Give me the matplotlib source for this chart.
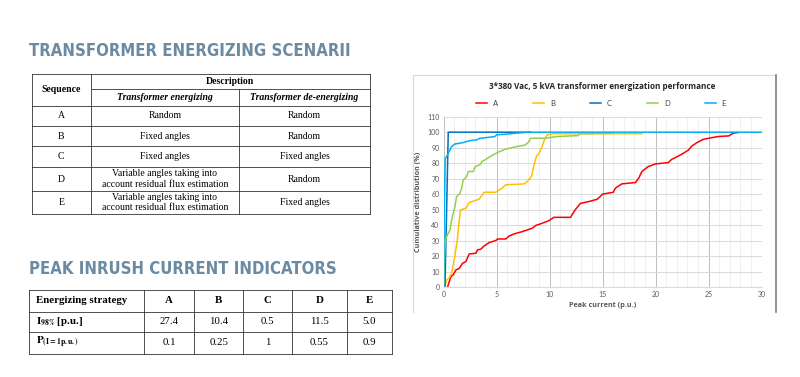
import numpy as np
import matplotlib
matplotlib.use("Agg")
import matplotlib.pyplot as plt
from matplotlib.patches import Rectangle

plt.rcParams['mathtext.fontset'] = 'stix'

#DATA

# table 1
seq_labels = ['A', 'B', 'C', 'D', 'E']
energizing = ['Random', 'Fixed angles', 'Fixed angles',
              'Variable angles taking into\naccount residual flux estimation',
              'Variable angles taking into\naccount residual flux estimation']
de_energizing = ['Random', 'Random', 'Fixed angles', 'Random', 'Fixed angles']

# table 2
strategies = ['A', 'B', 'C', 'D', 'E']
i98 = ['27.4', '10.4', '0.5', '11.5', '5.0']
p1pu = ['0.1', '0.25', '1', '0.55', '0.9']

# cumulative distribution curves (peak current p.u., %)
A_x = [0.38, 0.53, 0.69, 0.9, 1.16, 1.47, 1.79, 2.1, 2.41, 3.04, 3.2, 3.5, 3.82, 4.3, 4.92, 5.08,
       5.86, 6.2, 6.65, 7.43, 7.9, 8.37, 8.68, 9.3, 9.94, 10.4, 11.97, 12.4, 12.9, 13.7, 14.5, 15.0,
       16.0, 16.2, 16.8, 18.1, 18.4, 18.7, 19.3, 20.0, 21.2, 21.5, 22.0, 22.5, 23.1, 23.4, 23.9,
       24.5, 25.0, 25.9, 26.9, 27.3, 27.8]
A_y = [0, 3.4, 6.7, 7.8, 11, 12, 15.3, 16.4, 21.3, 21.8, 24, 24.4, 26.5, 28.7, 30, 31,
       31, 33, 34.3, 35.8, 36.9, 38, 39.7, 41.2, 42.9, 45, 45, 49.8, 54, 55.2, 56.7, 60,
       61.2, 63.8, 66.6, 67.5, 70.3, 74.6, 77.8, 79.5, 80.4, 82.4, 84.1, 85.9, 88.5, 91, 93.3,
       95.4, 96.1, 97.2, 97.6, 99.3, 99.8]

B_x = [0.1, 0.28, 0.5, 0.75, 1.0, 1.29, 1.47, 1.6, 2.1, 2.4, 3.35, 3.82, 4.9, 5.5, 5.86, 7.6,
       8.05, 8.3, 8.5, 8.75, 9.0, 9.3, 9.5, 9.78, 10.25, 18.7]
B_y = [0, 4.5, 5.6, 8.8, 17.5, 30, 43, 49.8, 50.9, 54.5, 56.7, 61.2, 61.2, 63.8, 66, 66.6,
       69.2, 71.8, 78, 84.3, 86.4, 91, 95, 98.3, 99.0, 99.0]

C_x = [0.13, 0.44, 8.2]
C_y = [0, 100, 100]

D_x = [0.0, 0.03, 0.13, 0.28, 0.6, 0.75, 1.07, 1.23, 1.54, 1.7, 1.86, 2.17, 2.33, 2.8, 2.96,
       3.43, 3.6, 3.9, 4.4, 4.84, 5.3, 5.8, 6.26, 6.9, 7.7, 8.05, 8.2, 9.6, 10.7, 12.7, 12.9, 15.8]
D_y = [0, 8.8, 26, 32.5, 36.9, 43, 52, 58.4, 60.5, 63.8, 69.2, 71.3, 74.6, 74.6, 77.8,
       78.9, 81, 82.1, 84.3, 86, 87.5, 89, 89.7, 90.7, 91.7, 93.9, 96.1, 96.1, 97.2, 97.8, 99.0, 99.3]

E_x = [0.0, 0.05, 0.15, 0.28, 0.44, 0.6, 0.75, 1.07, 1.54, 1.86, 2.17, 2.5, 3.1, 3.4, 4.05,
       4.84, 5.0, 5.9, 6.9, 8.1, 30]
E_y = [0, 40, 83, 84.3, 86.4, 88.6, 90.7, 92.4, 92.9, 93.3, 94, 94.6, 95, 96, 96.5,
       97.2, 98.3, 98.7, 99.4, 100, 100]

series = [('A', A_x, A_y, '#FF0000'), ('B', B_x, B_y, '#FFC000'), ('C', C_x, C_y, '#0070C0'),
          ('D', D_x, D_y, '#92D050'), ('E', E_x, E_y, '#00B0F0')]

#FIGURE

W, H = 800, 377
fig = plt.figure(figsize=(W / 100, H / 100), dpi=100)

# background axes in pixel coordinates for headings and tables
bg = fig.add_axes([0, 0, 1, 1])
bg.set_xlim(0, W)
bg.set_ylim(H, 0)
bg.axis('off')

head_color = '#6B8BA3'
head_kw = dict(family='DejaVu Sans', stretch='condensed', weight='bold', fontsize=12,
               color=head_color, va='center', ha='left')
bg.text(29, 51, 'TRANSFORMER ENERGIZING SCENARII', **head_kw)
bg.text(29, 269, 'PEAK INRUSH CURRENT INDICATORS', **head_kw)

serif = 'Liberation Serif'
line_kw = dict(color='#333333', lw=0.6)

#table 1
t1_x = [31.7, 90.7, 239, 370]
t1_rows = [74.3, 89.3, 105.7, 126, 146.3, 167, 191, 214.3]

for y in [t1_rows[0]] + t1_rows[2:]:
    bg.plot([t1_x[0], t1_x[3]], [y, y], **line_kw)
bg.plot([t1_x[1], t1_x[3]], [t1_rows[1], t1_rows[1]], **line_kw)
bg.plot([t1_x[0], t1_x[0]], [t1_rows[0], t1_rows[-1]], **line_kw)
bg.plot([t1_x[1], t1_x[1]], [t1_rows[0], t1_rows[-1]], **line_kw)
bg.plot([t1_x[3], t1_x[3]], [t1_rows[0], t1_rows[-1]], **line_kw)
bg.plot([t1_x[2], t1_x[2]], [t1_rows[1], t1_rows[-1]], **line_kw)

fs1 = 7
bg.text((t1_x[0] + t1_x[1]) / 2, (t1_rows[0] + t1_rows[2]) / 2, 'Sequence', family=serif,
        weight='bold', fontsize=fs1, ha='center', va='center')
bg.text((t1_x[1] + t1_x[3]) / 2, (t1_rows[0] + t1_rows[1]) / 2, 'Description', family=serif,
        weight='bold', fontsize=fs1, ha='center', va='center')
bg.text((t1_x[1] + t1_x[2]) / 2, (t1_rows[1] + t1_rows[2]) / 2, 'Transformer energizing',
        family=serif, weight='bold', style='italic', fontsize=fs1, ha='center', va='center')
bg.text((t1_x[2] + t1_x[3]) / 2, (t1_rows[1] + t1_rows[2]) / 2, 'Transformer de-energizing',
        family=serif, weight='bold', style='italic', fontsize=fs1, ha='center', va='center')

for i in range(len(seq_labels)):
    yc = (t1_rows[i + 2] + t1_rows[i + 3]) / 2
    bg.text((t1_x[0] + t1_x[1]) / 2, yc, seq_labels[i], family=serif, fontsize=fs1,
            ha='center', va='center')
    bg.text((t1_x[1] + t1_x[2]) / 2, yc, energizing[i], family=serif, fontsize=fs1,
            ha='center', va='center', linespacing=1.15)
    bg.text((t1_x[2] + t1_x[3]) / 2, yc, de_energizing[i], family=serif, fontsize=fs1,
            ha='center', va='center')

#table 2
t2_x = [29.3, 144, 194, 243.3, 291.7, 347.3, 391.7]
t2_rows = [290, 311.7, 331.7, 354]

for y in t2_rows:
    bg.plot([t2_x[0], t2_x[-1]], [y, y], **line_kw)
for x in t2_x:
    bg.plot([x, x], [t2_rows[0], t2_rows[-1]], **line_kw)

fs2 = 7.8
row_heads = ['Energizing strategy', r'$\mathbf{I_{98\%}}$ [p.u.]', r'$\mathbf{P_{(I=1p.u.)}}$']
for r, lab in enumerate(row_heads):
    yc = (t2_rows[r] + t2_rows[r + 1]) / 2
    bg.text(t2_x[0] + 7, yc, lab, family=serif, weight='bold', fontsize=fs2,
            ha='left', va='center')
for c in range(len(strategies)):
    xc = (t2_x[c + 1] + t2_x[c + 2]) / 2
    bg.text(xc, (t2_rows[0] + t2_rows[1]) / 2, strategies[c], family=serif, weight='bold',
            fontsize=fs2, ha='center', va='center')
    bg.text(xc, (t2_rows[1] + t2_rows[2]) / 2, i98[c], family=serif,
            fontsize=fs2, ha='center', va='center')
    bg.text(xc, (t2_rows[2] + t2_rows[3]) / 2, p1pu[c], family=serif,
            fontsize=fs2, ha='center', va='center')

#chart area frame
bg.plot([413, 413, 776], [312, 75, 75], color='#D9D9D9', lw=0.8)
bg.plot([776, 776], [75, 312], color='#7F7F7F', lw=1.2)

#CHART

ax = fig.add_axes([443.6 / W, 1 - 287 / H, 318.1 / W, 170.3 / H])
ax.set_xlim(0, 30)
ax.set_ylim(0, 110)
ax.set_xticks(np.arange(0, 31, 5))
ax.set_xticks(np.arange(0, 31, 1), minor=True)
ax.set_yticks(np.arange(0, 111, 10))
ax.grid(True, which='minor', axis='x', color='#EDEDED', lw=0.6)
ax.grid(True, which='major', axis='x', color='#BFBFBF', lw=0.7)
ax.grid(True, which='major', axis='y', color='#D9D9D9', lw=0.7)
ax.set_axisbelow(True)
for s in ['top', 'right', 'left']:
    ax.spines[s].set_visible(False)
ax.spines['bottom'].set_color('#D9D9D9')
ax.tick_params(which='both', length=0, labelsize=5, labelcolor='#595959', pad=3)

for name, xs, ys, col in series:
    ax.plot(xs, ys, color=col, lw=1.1, label=name, solid_joinstyle='miter')

ax.set_xlabel('Peak current (p.u.)', fontsize=5.2, weight='bold', color='#595959', labelpad=3)
ax.set_ylabel('Cumulative distribution (%)', fontsize=5.2, weight='bold', color='#595959',
              labelpad=4)
for lbl in ax.get_xticklabels() + ax.get_yticklabels():
    lbl.set_family('Lato')
ax.xaxis.label.set_family('Open Sans')
ax.yaxis.label.set_family('Open Sans')

ax.set_title('3*380 Vac, 5 kVA transformer energization performance', family='Open Sans',
             weight='bold', fontsize=5.9, color='#262626', pad=20)
leg = ax.legend(loc='lower center', bbox_to_anchor=(0.495, 1.016), ncol=5, frameon=False,
                handlelength=1.4, columnspacing=4.6, handletextpad=0.8,
                prop={'family': 'Lato', 'size': 5.5})
for t in leg.get_texts():
    t.set_color('#404040')

fig.savefig('out.png', dpi=100)
